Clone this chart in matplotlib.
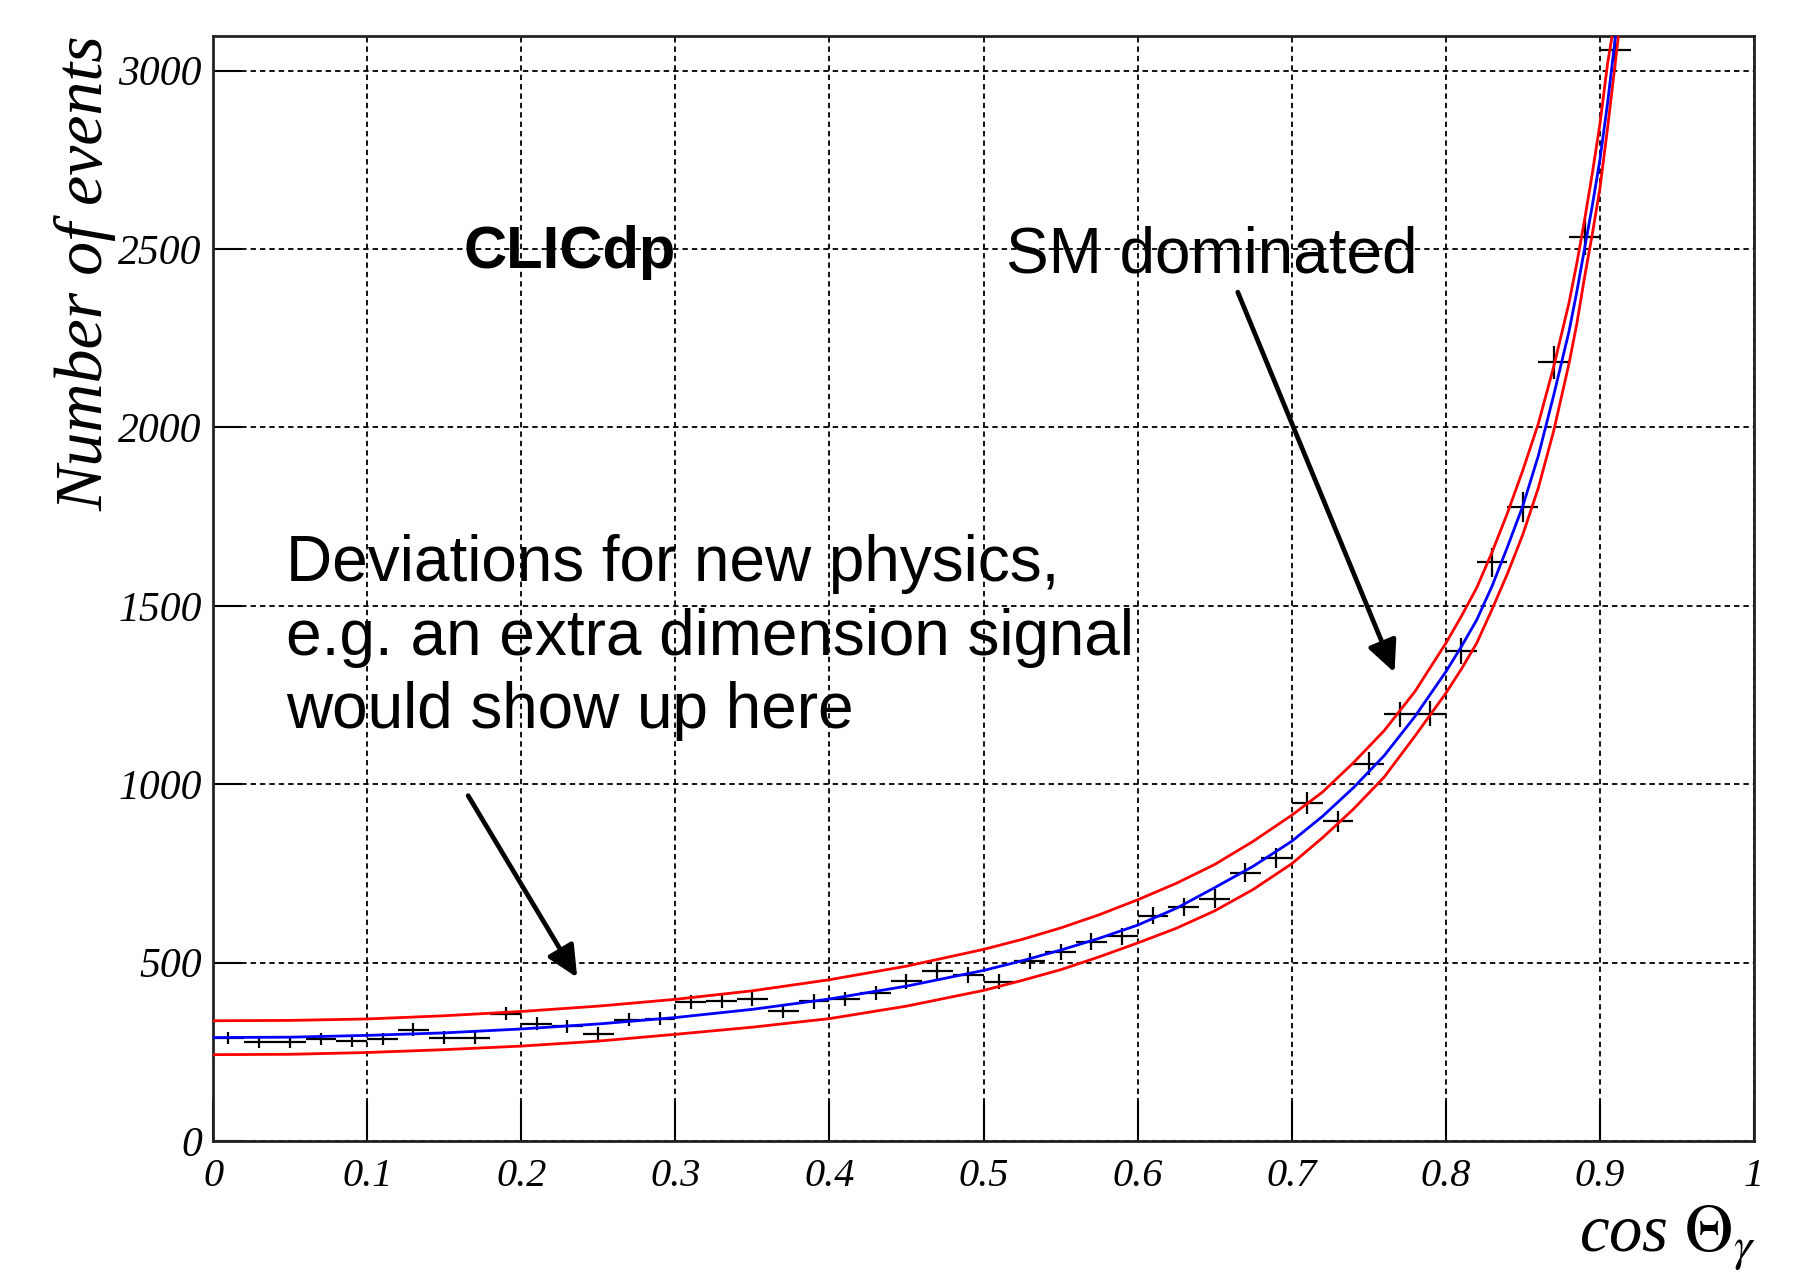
import numpy as np
import matplotlib.pyplot as plt

plt.rcParams['mathtext.fontset'] = 'stix'

# photon polar angle histogram, bins of 0.02 in cos(theta)
bin_centres = [0.01, 0.03, 0.05, 0.07, 0.09, 0.11, 0.13, 0.15, 0.17, 0.19,
               0.21, 0.23, 0.25, 0.27, 0.29, 0.31, 0.33, 0.35, 0.37, 0.39,
               0.41, 0.43, 0.45, 0.47, 0.49, 0.51, 0.53, 0.55, 0.57, 0.59,
               0.61, 0.63, 0.65, 0.67, 0.69, 0.71, 0.73, 0.75, 0.77, 0.79,
               0.81, 0.83, 0.85, 0.87, 0.89, 0.91]
counts = [289, 278, 278, 287, 280, 285, 312, 290, 289, 357,
          329, 322, 301, 340, 343, 390, 393, 397, 364, 391,
          397, 415, 448, 477, 465, 446, 505, 529, 558, 574,
          632, 656, 679, 752, 794, 947, 896, 1057, 1196, 1198,
          1374, 1622, 1778, 2182, 2533, 3058]

# SM expectation (blue) and the two red envelope curves
curve_x = [0.0, 0.05, 0.10, 0.15, 0.20, 0.25, 0.30, 0.35, 0.40, 0.45,
           0.50, 0.525, 0.55, 0.575, 0.60, 0.625, 0.65, 0.675, 0.70, 0.72,
           0.74, 0.76, 0.78, 0.80, 0.81, 0.82, 0.83, 0.84, 0.85, 0.86,
           0.87, 0.88, 0.885, 0.89, 0.895, 0.90, 0.905]
sm_curve = [290, 291, 296, 303, 314, 328, 346, 369, 398, 434,
            478, 505, 535, 568, 605, 652, 710, 770, 840, 910,
            990, 1080, 1190, 1315, 1385, 1460, 1555, 1665, 1780, 1920,
            2090, 2270, 2380, 2500, 2620, 2750, 2910]
upper_curve = [337, 338, 342, 351, 363, 378, 397, 421, 452, 490,
               537, 565, 597, 634, 676, 722, 775, 840, 913, 978,
               1060, 1150, 1260, 1395, 1470, 1550, 1650, 1760, 1880, 2010,
               2170, 2350, 2460, 2580, 2710, 2850, 3020]
lower_curve = [242, 243, 248, 256, 266, 280, 299, 319, 343, 378,
               422, 450, 480, 516, 555, 596, 645, 705, 777, 850,
               930, 1020, 1135, 1255, 1322, 1395, 1490, 1590, 1700, 1830,
               1990, 2180, 2290, 2420, 2540, 2670, 2840]
# x where each curve leaves the top of the frame
sm_top_x, upper_top_x, lower_top_x = 0.9101, 0.9079, 0.9120

x_ticks = [0, 0.1, 0.2, 0.3, 0.4, 0.5, 0.6, 0.7, 0.8, 0.9, 1.0]
x_labels = ['0', '0.1', '0.2', '0.3', '0.4', '0.5', '0.6', '0.7', '0.8', '0.9', '1']
y_ticks = [0, 500, 1000, 1500, 2000, 2500, 3000]
y_max = 3097

fig = plt.figure(figsize=(18.18, 12.76), dpi=100)
ax = fig.add_axes([0.1172, 0.1058, 0.8476, 0.866])

ax.set_xlim(0, 1)
ax.set_ylim(0, y_max)
ax.set_axisbelow(True)
ax.grid(True, color='black', linestyle=(0, (3, 2.2)), linewidth=1.3)

ax.errorbar(bin_centres, counts, xerr=0.01, yerr=np.sqrt(counts), fmt='none',
            ecolor='black', elinewidth=1.6, capsize=0, zorder=3)

ax.plot(curve_x + [upper_top_x], upper_curve + [y_max], color='#ff0000', lw=2.0, zorder=4)
ax.plot(curve_x + [lower_top_x], lower_curve + [y_max], color='#ff0000', lw=2.0, zorder=4)
ax.plot(curve_x + [sm_top_x], sm_curve + [y_max], color='#0000ff', lw=2.0, zorder=5)

serif = dict(family='Liberation Serif', style='italic')
ax.set_xticks(x_ticks)
ax.set_xticklabels(x_labels, fontdict=serif, fontsize=29)
ax.set_yticks(y_ticks)
ax.set_yticklabels([str(v) for v in y_ticks], fontdict=serif, fontsize=30)
ax.tick_params(axis='x', direction='in', length=29, width=1.5, pad=12)
ax.tick_params(axis='y', direction='in', length=21, width=1.5, pad=8)
for sp in ax.spines.values():
    sp.set_linewidth(2)
    sp.set_color('#222222')

fig.text(0.047, 0.972, 'Number of events', rotation=90, ha='center', va='top',
         fontsize=49, **serif)
fig.text(0.966, 0.019, r'cos $\Theta_{\gamma}$', ha='right', va='baseline',
         fontsize=48, **serif)

ax.text(0.1625, 2447, 'CLICdp', fontsize=43, fontweight='bold',
        family='Liberation Sans', ha='left', va='baseline')
ax.text(0.5147, 2434, 'SM dominated', fontsize=46,
        family='Liberation Sans', ha='left', va='baseline')
ax.text(0.0474, 1157, 'Deviations for new physics,\ne.g. an extra dimension signal\nwould show up here',
        fontsize=46, family='Liberation Sans', ha='left', va='baseline',
        linespacing=1.29)

arrow = dict(arrowstyle='-|>,head_length=0.95,head_width=0.45', color='black',
             lw=3.4, mutation_scale=20, shrinkA=0, shrinkB=0)
ax.annotate('', xy=(0.2363, 458), xytext=(0.1655, 968), arrowprops=arrow)
ax.annotate('', xy=(0.7667, 1313), xytext=(0.665, 2379), arrowprops=arrow)

fig.savefig('out.png', dpi=100)
